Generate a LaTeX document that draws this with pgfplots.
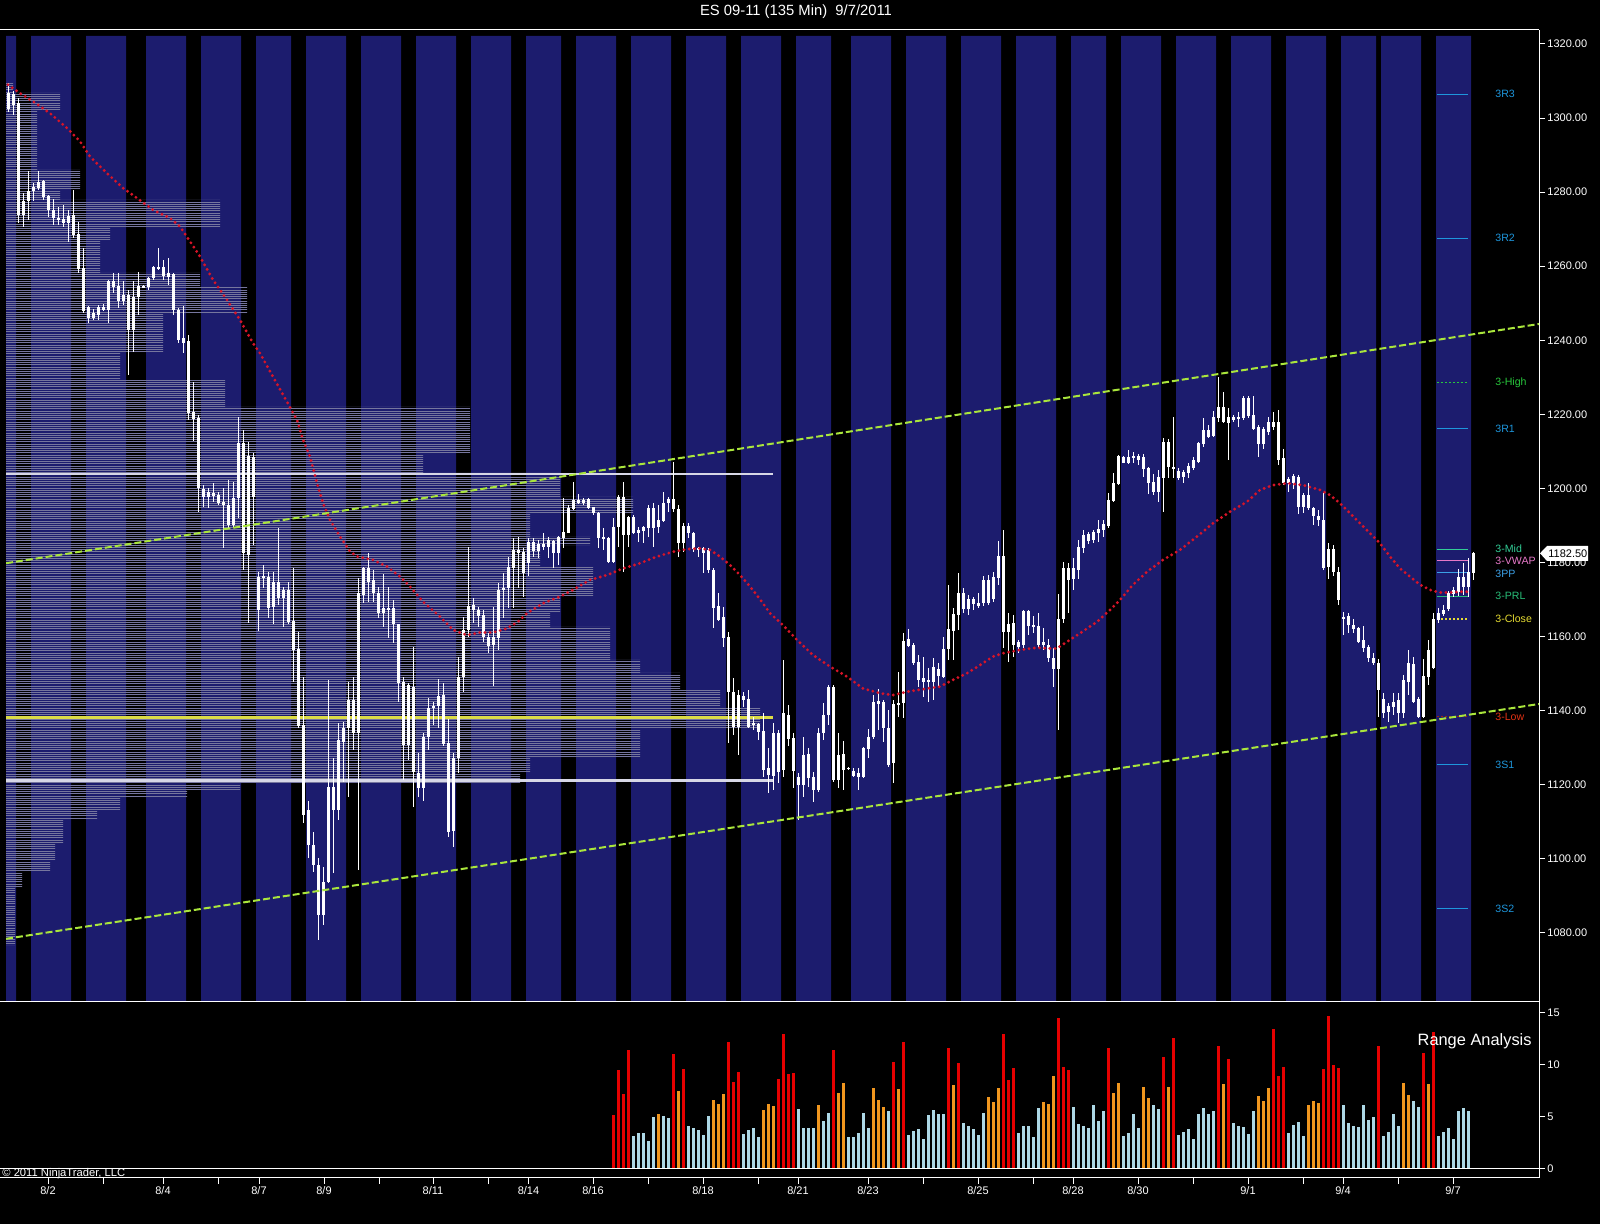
\documentclass[border=0pt]{standalone}
\usepackage{pgfplots}
\pgfplotsset{compat=1.18}
\usepackage{pgfplotstable}
\usetikzlibrary{patterns}
\usepackage{fontspec}
\setmainfont{Liberation Sans}
\definecolor{bandblue}{RGB}{28,28,110}
\definecolor{profgray}{RGB}{118,118,158}
\definecolor{chgreen}{RGB}{170,230,60}
\definecolor{dotred}{RGB}{215,20,40}
\definecolor{hlwhite}{RGB}{215,215,230}
\definecolor{hlyellow}{RGB}{220,220,70}
\definecolor{pvblue}{RGB}{30,150,220}
\definecolor{pvgreen}{RGB}{40,200,60}
\definecolor{pvmid}{RGB}{50,205,150}
\definecolor{pvpink}{RGB}{230,120,200}
\definecolor{pvpp}{RGB}{60,160,230}
\definecolor{pvprl}{RGB}{40,190,120}
\definecolor{pvyellow}{RGB}{230,220,50}
\definecolor{pvred}{RGB}{225,50,20}
\definecolor{rred}{RGB}{230,0,0}
\definecolor{rorange}{RGB}{240,150,30}
\definecolor{rblue}{RGB}{173,216,230}
\pgfdeclarepatternformonly{hfine}{\pgfqpoint{-1pt}{0pt}}{\pgfqpoint{801pt}{1.1pt}}{\pgfqpoint{800pt}{1.1pt}}{%
  \pgfsetlinewidth{0.55pt}\pgfpathmoveto{\pgfqpoint{-1pt}{0.55pt}}\pgfpathlineto{\pgfqpoint{801pt}{0.55pt}}\pgfusepath{stroke}}
\newcommand{\pp}[2]{({(#1)*0.5pt},{(1224-(#2))*0.5pt})}

\pgfplotstableread{
x bt bb wt wb
8.3 1306.9 1302.4 1309.4 1301.7
13.3 1306.5 1303.6 1307.2 1300.9
18.3 1304.0 1273.9 1305.3 1271.6
23.3 1277.6 1273.9 1279.7 1270.7
28.3 1280.3 1277.5 1285.7 1272.5
33.3 1281.5 1280.2 1282.4 1277.5
38.3 1282.7 1281.0 1285.7 1280.6
43.3 1282.9 1278.8 1283.3 1277.9
48.3 1279.0 1275.2 1279.3 1273.4
53.3 1275.2 1273.0 1278.1 1271.1
58.3 1272.9 1272.4 1276.1 1271.1
63.3 1272.7 1271.6 1276.6 1270.7
68.3 1273.6 1271.6 1275.2 1266.4
73.3 1273.9 1268.4 1280.6 1267.6
78.3 1268.7 1259.2 1271.9 1258.3
83.3 1259.5 1247.8 1264.8 1247.3
88.3 1249.1 1245.9 1249.3 1244.6
93.3 1247.5 1245.9 1248.4 1245.5
98.3 1249.1 1246.9 1249.5 1245.5
103.3 1249.1 1248.2 1249.7 1247.8
108.3 1256.1 1248.2 1256.3 1244.6
113.3 1255.9 1254.5 1258.1 1252.7
118.3 1254.7 1250.7 1258.1 1248.7
123.3 1252.2 1250.7 1255.9 1249.5
128.3 1252.2 1242.8 1253.6 1230.7
133.3 1251.6 1242.8 1256.1 1236.9
138.3 1254.7 1251.6 1258.5 1246.9
143.3 1254.7 1254.3 1254.9 1254.1
148.3 1256.7 1254.5 1257.2 1253.6
153.3 1259.7 1256.7 1260.1 1256.3
158.3 1259.9 1259.4 1264.8 1259.0
163.3 1259.9 1257.4 1261.7 1256.3
168.3 1258.1 1257.2 1262.2 1255.0
173.3 1257.9 1248.2 1258.1 1246.9
178.3 1248.2 1240.1 1248.6 1239.2
183.3 1240.5 1239.4 1249.3 1236.5
188.3 1239.8 1220.3 1241.4 1218.5
193.3 1220.6 1218.7 1228.8 1212.7
198.3 1218.9 1200.1 1219.9 1193.7
203.3 1199.8 1197.6 1200.9 1194.9
208.3 1199.1 1197.6 1200.2 1194.6
213.3 1198.9 1198.0 1201.6 1196.4
218.3 1198.2 1196.0 1199.1 1195.5
223.3 1196.4 1195.5 1200.0 1183.8
228.3 1195.5 1190.1 1202.3 1189.2
233.3 1197.3 1190.1 1201.8 1189.2
238.3 1212.2 1197.3 1219.4 1191.9
243.3 1212.2 1182.5 1215.8 1178.0
248.3 1208.8 1182.0 1212.6 1163.6
253.3 1208.6 1197.8 1209.5 1184.7
258.3 1176.2 1167.2 1177.5 1161.6
263.3 1176.4 1175.9 1179.3 1173.0
268.3 1176.2 1167.6 1177.5 1165.0
273.3 1174.8 1168.1 1177.5 1163.4
278.3 1174.7 1170.3 1189.2 1168.5
283.3 1172.6 1170.3 1173.5 1162.5
288.3 1172.6 1164.0 1174.8 1163.4
293.3 1164.2 1156.4 1178.4 1147.8
298.3 1156.6 1135.9 1161.3 1135.2
303.3 1136.1 1111.8 1149.2 1109.6
308.3 1113.2 1103.7 1115.5 1100.1
313.3 1103.7 1098.3 1107.3 1096.5
318.3 1098.3 1084.8 1100.1 1078.1
323.3 1093.8 1084.8 1097.9 1082.1
328.3 1119.5 1093.8 1148.3 1093.4
333.3 1119.5 1113.2 1127.1 1096.1
338.3 1132.1 1113.2 1136.6 1110.5
343.3 1135.2 1131.6 1137.0 1120.8
348.3 1142.9 1135.2 1147.8 1116.8
353.3 1142.9 1133.9 1149.2 1129.4
358.3 1171.7 1133.9 1175.7 1097.0
363.3 1178.4 1171.2 1178.9 1169.0
368.3 1178.4 1174.8 1182.5 1169.4
373.3 1175.3 1171.7 1178.0 1169.4
378.3 1171.9 1166.5 1173.5 1164.9
383.3 1167.6 1166.5 1176.9 1162.7
388.3 1167.6 1167.2 1173.5 1159.5
393.3 1167.6 1163.4 1169.9 1158.2
398.3 1163.4 1147.4 1163.4 1142.4
403.3 1147.8 1130.7 1149.2 1121.3
408.3 1146.9 1130.7 1147.4 1126.7
413.3 1146.5 1123.5 1157.3 1114.1
418.3 1123.1 1119.0 1128.5 1116.8
423.3 1133.0 1119.0 1133.9 1115.5
428.3 1140.6 1133.0 1143.3 1129.4
433.3 1141.3 1140.6 1142.4 1136.1
438.3 1144.0 1141.3 1148.5 1135.2
443.3 1144.2 1131.0 1147.4 1130.5
448.3 1131.4 1107.3 1137.7 1106.0
453.3 1127.1 1107.6 1128.5 1103.3
458.3 1149.2 1127.1 1154.6 1123.1
463.3 1161.8 1149.2 1165.4 1145.1
468.3 1168.3 1161.8 1184.3 1160.0
473.3 1168.5 1167.2 1170.3 1163.6
478.3 1167.2 1165.6 1168.1 1162.5
483.3 1165.9 1160.0 1167.2 1158.6
488.3 1160.0 1157.5 1160.9 1155.7
493.3 1160.0 1157.7 1168.1 1146.7
498.3 1172.6 1159.5 1174.4 1156.4
503.3 1173.2 1172.5 1177.1 1164.9
508.3 1178.9 1173.0 1181.6 1167.6
513.3 1183.4 1178.4 1186.5 1167.6
518.3 1183.4 1182.5 1187.0 1173.0
523.3 1182.9 1177.1 1183.8 1170.6
528.3 1185.6 1180.0 1186.5 1176.4
533.3 1185.6 1183.2 1186.5 1181.6
538.3 1185.0 1183.2 1186.1 1181.1
543.3 1185.0 1184.3 1187.9 1183.4
548.3 1186.1 1184.1 1187.0 1181.1
553.3 1185.9 1182.5 1186.1 1178.4
558.3 1187.0 1182.5 1187.2 1179.3
563.3 1188.3 1186.5 1197.3 1183.8
568.3 1194.6 1188.1 1195.5 1187.9
573.3 1196.9 1194.4 1201.8 1194.2
578.3 1196.9 1196.2 1198.4 1195.8
583.3 1196.9 1196.2 1197.3 1195.5
588.3 1197.1 1194.6 1197.3 1194.4
593.3 1194.9 1193.5 1195.1 1192.8
598.3 1193.5 1186.7 1193.7 1183.8
603.3 1186.9 1186.3 1189.2 1183.4
608.3 1186.5 1180.2 1187.0 1180.0
613.3 1189.5 1180.2 1191.9 1179.8
618.3 1197.8 1189.5 1198.2 1184.3
623.3 1197.8 1187.4 1201.8 1177.5
628.3 1192.2 1187.4 1192.6 1184.1
633.3 1192.2 1187.9 1192.8 1187.7
638.3 1188.9 1187.9 1189.7 1185.6
643.3 1189.5 1188.6 1189.9 1185.2
648.3 1194.6 1189.2 1195.5 1187.0
653.3 1194.6 1189.2 1196.0 1184.1
658.3 1191.5 1189.5 1195.5 1187.9
663.3 1196.2 1191.3 1199.1 1191.0
668.3 1197.1 1196.2 1197.8 1193.7
673.3 1197.1 1194.4 1207.2 1193.7
678.3 1194.4 1185.4 1195.5 1181.6
683.3 1189.9 1185.2 1190.6 1182.9
688.3 1189.9 1187.9 1190.6 1186.5
693.3 1187.9 1183.6 1188.3 1182.9
698.3 1183.8 1183.4 1184.3 1181.6
703.3 1183.8 1182.7 1184.3 1177.1
708.3 1183.4 1178.0 1183.8 1177.3
713.3 1178.0 1167.6 1178.4 1162.2
718.3 1168.3 1164.5 1171.7 1164.1
723.3 1165.4 1159.5 1168.1 1157.3
728.3 1160.0 1145.1 1161.3 1131.2
733.3 1145.1 1135.7 1148.7 1133.4
738.3 1144.2 1135.7 1145.6 1128.1
743.3 1144.0 1142.9 1145.1 1141.1
748.3 1143.1 1135.7 1145.6 1135.2
753.3 1136.6 1136.1 1138.4 1134.8
758.3 1136.4 1134.3 1136.6 1132.1
763.3 1134.5 1124.0 1139.3 1122.2
768.3 1124.4 1122.6 1129.8 1117.7
773.3 1133.9 1122.4 1136.6 1118.6
778.3 1133.9 1123.5 1134.8 1120.4
783.3 1139.3 1124.0 1153.7 1122.2
788.3 1138.8 1132.3 1141.5 1130.5
793.3 1132.5 1123.8 1133.9 1119.0
798.3 1122.2 1119.9 1123.1 1110.5
803.3 1128.0 1119.9 1132.8 1116.8
808.3 1128.3 1121.7 1129.8 1119.5
813.3 1122.2 1118.6 1123.5 1115.4
818.3 1134.1 1118.6 1135.2 1118.1
823.3 1138.8 1133.9 1142.0 1132.0
828.3 1146.5 1138.8 1146.9 1136.1
833.3 1146.5 1121.3 1146.9 1120.8
838.3 1128.0 1121.3 1133.9 1119.0
843.3 1128.3 1124.0 1131.9 1118.6
848.3 1124.6 1124.2 1124.8 1124.0
853.3 1123.8 1122.4 1124.4 1122.2
858.3 1123.1 1122.2 1124.4 1118.6
863.3 1129.8 1122.2 1130.3 1121.7
868.3 1133.0 1129.6 1135.0 1127.1
873.3 1142.4 1132.8 1144.2 1132.3
878.3 1142.6 1141.8 1145.8 1134.8
883.3 1142.3 1135.2 1142.9 1131.6
888.3 1135.2 1125.3 1140.2 1124.9
893.3 1141.8 1125.8 1142.9 1120.4
898.3 1142.2 1141.5 1150.5 1138.4
903.3 1158.9 1142.2 1160.9 1137.9
908.3 1159.3 1157.5 1162.0 1157.1
913.3 1157.7 1152.8 1158.2 1152.3
918.3 1153.2 1148.3 1155.0 1146.5
923.3 1148.7 1147.8 1154.6 1143.8
928.3 1148.3 1147.8 1151.4 1142.4
933.3 1151.7 1147.8 1154.1 1142.9
938.3 1151.2 1149.4 1152.8 1146.5
943.3 1156.6 1149.2 1160.0 1148.7
948.3 1162.0 1156.6 1174.0 1153.7
953.3 1166.1 1161.6 1167.6 1153.7
958.3 1171.7 1165.8 1177.1 1161.8
963.3 1171.7 1167.4 1173.0 1166.3
968.3 1170.1 1167.4 1171.2 1165.8
973.3 1170.1 1168.8 1170.8 1167.2
978.3 1169.0 1168.3 1171.7 1167.6
983.3 1175.3 1169.0 1176.4 1168.3
988.3 1175.3 1169.0 1176.6 1168.5
993.3 1176.0 1170.1 1177.5 1169.4
998.3 1181.8 1175.7 1185.9 1173.9
1003.3 1181.8 1161.3 1188.8 1156.8
1008.3 1163.4 1161.3 1166.3 1153.2
1013.3 1163.8 1157.7 1165.8 1154.6
1018.3 1158.6 1157.3 1159.1 1155.5
1023.3 1166.9 1157.7 1167.2 1156.8
1028.3 1166.9 1162.9 1167.2 1160.4
1033.3 1163.1 1162.5 1165.6 1161.1
1038.3 1162.9 1157.7 1166.3 1156.8
1043.3 1158.6 1157.7 1162.2 1156.4
1048.3 1157.7 1154.1 1159.3 1153.2
1053.3 1154.1 1151.2 1156.8 1146.5
1058.3 1164.7 1151.2 1171.5 1134.8
1063.3 1178.4 1164.7 1180.2 1163.8
1068.3 1178.4 1175.3 1179.8 1166.3
1073.3 1178.4 1175.5 1181.1 1172.6
1078.3 1184.3 1178.1 1186.1 1175.5
1083.3 1187.4 1183.8 1188.8 1182.7
1088.3 1187.7 1185.9 1188.3 1185.0
1093.3 1188.3 1186.1 1188.8 1185.2
1098.3 1189.0 1187.9 1191.5 1185.6
1103.3 1190.4 1188.8 1191.5 1187.0
1108.3 1196.9 1189.9 1198.9 1189.2
1113.3 1201.4 1196.7 1204.1 1196.4
1118.3 1208.8 1201.2 1209.0 1200.9
1123.3 1208.6 1207.0 1208.8 1206.8
1128.3 1208.6 1207.0 1210.4 1206.6
1133.3 1208.8 1208.4 1209.9 1206.8
1138.3 1208.8 1207.7 1209.3 1206.3
1143.3 1208.4 1205.2 1209.3 1203.2
1148.3 1205.4 1201.6 1205.9 1198.5
1153.3 1201.8 1199.1 1203.9 1198.2
1158.3 1203.0 1199.1 1205.0 1196.4
1163.3 1212.6 1202.7 1213.5 1193.7
1168.3 1212.6 1205.7 1213.3 1202.7
1173.3 1205.9 1205.2 1219.4 1202.7
1178.3 1204.8 1202.7 1205.4 1202.3
1183.3 1204.5 1203.0 1205.0 1201.6
1188.3 1206.1 1204.3 1206.8 1202.7
1193.3 1207.7 1205.4 1208.4 1205.0
1198.3 1212.2 1207.2 1212.6 1206.8
1203.3 1215.8 1212.0 1218.9 1211.3
1208.3 1215.8 1214.0 1217.1 1213.5
1213.3 1219.4 1214.2 1221.0 1213.8
1218.3 1222.1 1218.9 1230.2 1218.0
1223.3 1222.1 1218.0 1226.1 1217.6
1228.3 1219.4 1217.8 1221.6 1207.7
1233.3 1219.4 1218.5 1219.8 1218.0
1238.3 1219.3 1218.9 1220.7 1216.7
1243.3 1224.5 1218.9 1225.0 1218.5
1248.3 1224.5 1219.6 1225.0 1218.9
1253.3 1219.8 1216.0 1225.0 1215.8
1258.3 1216.5 1212.0 1217.1 1208.6
1263.3 1216.0 1212.0 1216.5 1210.6
1268.3 1218.0 1215.3 1219.4 1214.4
1273.3 1218.0 1216.5 1220.7 1215.8
1278.3 1218.0 1207.7 1221.2 1206.3
1283.3 1208.1 1201.4 1210.6 1200.9
1288.3 1202.5 1201.4 1203.2 1199.1
1293.3 1203.4 1201.6 1203.9 1199.8
1298.3 1203.2 1195.1 1203.6 1193.1
1303.3 1198.2 1195.1 1198.7 1193.5
1308.3 1198.2 1194.6 1201.6 1194.2
1313.3 1194.6 1192.6 1195.1 1190.1
1318.3 1192.6 1191.5 1194.2 1189.9
1323.3 1191.5 1178.4 1198.9 1178.0
1328.3 1183.6 1178.9 1185.4 1175.5
1333.3 1183.6 1177.5 1184.7 1176.4
1338.3 1177.5 1169.9 1178.7 1168.5
1343.3 1165.4 1164.9 1166.7 1160.4
1348.3 1165.5 1163.1 1166.3 1160.9
1353.3 1163.1 1162.0 1164.7 1160.9
1358.3 1162.2 1158.6 1162.7 1158.2
1363.3 1159.1 1156.8 1162.9 1155.9
1368.3 1157.3 1154.1 1157.7 1153.2
1373.3 1154.1 1152.8 1155.5 1152.3
1378.3 1152.8 1145.7 1153.9 1138.4
1383.3 1143.1 1139.3 1144.7 1137.9
1388.3 1141.3 1139.7 1142.0 1137.0
1393.3 1142.4 1141.1 1144.7 1138.8
1398.3 1142.9 1139.3 1144.7 1136.6
1403.3 1148.3 1139.3 1149.6 1137.9
1408.3 1153.0 1147.8 1156.5 1144.2
1413.3 1152.6 1142.4 1154.6 1142.0
1418.3 1143.1 1138.4 1143.8 1137.9
1423.3 1149.4 1138.4 1153.9 1137.9
1428.3 1156.5 1149.2 1159.1 1146.9
1433.3 1164.7 1151.4 1166.3 1151.2
1438.3 1166.3 1164.5 1167.6 1163.8
1443.3 1167.2 1166.1 1168.5 1165.6
1448.3 1171.7 1167.4 1172.4 1167.0
1453.3 1172.6 1171.5 1173.5 1170.6
1458.3 1176.2 1172.1 1178.2 1170.9
1463.3 1176.2 1173.5 1180.0 1171.2
1468.3 1177.5 1173.5 1181.1 1170.8
1473.3 1182.5 1177.3 1182.9 1175.3
}\candles

\begin{document}
\begin{tikzpicture}
\useasboundingbox (0,0) rectangle (800pt,612pt);
\fill[black] (0,0) rectangle (800pt,612pt);

% main price panel
\begin{axis}[
  at={(3pt,111pt)}, anchor=south west,
  width=766.5pt, height=486pt, scale only axis,
  xmin=6, xmax=1539, ymin=1061.34, ymax=1323.78,
  axis x line=none, axis y line*=right,
  y axis line style={white, line width=0.5pt},
  ytick={1080,1100,...,1320},
  tick align=outside, major tick length=3pt,
  tick style={white, line width=0.5pt},
  yticklabel style={white, font=\fontsize{5.5pt}{6pt}\selectfont, inner sep=1pt,
    /pgf/number format/.cd, fixed, fixed zerofill, precision=2, 1000 sep={}, assume math mode=true},
]
% session bands
\addplot[const plot, fill=bandblue, draw=none] coordinates {
(6,1322.2) (16,1061.34) (31,1322.2) (71,1061.34) (86,1322.2) (126,1061.34) (146,1322.2) (186,1061.34)
(201,1322.2) (241,1061.34) (256,1322.2) (291,1061.34) (306,1322.2) (346,1061.34) (361,1322.2) (401,1061.34)
(416,1322.2) (456,1061.34) (471,1322.2) (511,1061.34) (526,1322.2) (561,1061.34) (576,1322.2) (616,1061.34)
(631,1322.2) (671,1061.34) (686,1322.2) (726,1061.34) (741,1322.2) (781,1061.34) (796,1322.2) (831,1061.34)
(851,1322.2) (891,1061.34) (906,1322.2) (946,1061.34) (961,1322.2) (1001,1061.34) (1016,1322.2) (1056,1061.34)
(1071,1322.2) (1106,1061.34) (1121,1322.2) (1161,1061.34) (1176,1322.2) (1216,1061.34) (1231,1322.2) (1271,1061.34)
(1286,1322.2) (1326,1061.34) (1341,1322.2) (1376,1061.34) (1381,1322.2) (1421,1061.34) (1436,1322.2) (1471,1061.34)
} \closedcycle;
% volume profile
\addplot[draw=none, pattern=hfine, pattern color=profgray] coordinates {
(6,1309.5) (13,1309.5) (13,1306.8) (60,1306.8) (60,1302.2) (37,1302.2) (37,1286.0) (80,1286.0) (80,1280.6)
(60,1280.6) (60,1277.9) (220,1277.9) (220,1270.6) (110,1270.6) (110,1267.1) (100,1267.1) (100,1258.2)
(200,1258.2) (200,1254.4) (247,1254.4) (247,1247.4) (163,1247.4) (163,1236.6) (120,1236.6) (120,1229.3)
(225,1229.3) (225,1222.0) (470,1222.0) (470,1209.6) (423,1209.6) (423,1204.2) (560,1204.2) (560,1197.7)
(633,1197.7) (633,1193.4) (530,1193.4) (530,1186.9) (590,1186.9) (590,1184.7) (540,1184.7) (540,1178.8)
(593,1178.8) (593,1170.7) (560,1170.7) (560,1166.4) (550,1166.4) (550,1162.6) (610,1162.6) (610,1153.7)
(640,1153.7) (640,1150.2) (680,1150.2) (680,1145.6) (720,1145.6) (720,1141.0) (760,1141.0) (760,1134.8)
(640,1134.8) (640,1127.5) (530,1127.5) (530,1123.2) (520,1123.2) (520,1120.5) (240,1120.5) (240,1118.6)
(187,1118.6) (187,1116.7) (120,1116.7) (120,1113.2) (97,1113.2) (97,1110.5) (63,1110.5) (63,1104.3)
(55,1104.3) (55,1099.7) (50,1099.7) (50,1096.2) (22,1096.2) (22,1092.4) (15,1092.4) (15,1076.7) (6,1076.7)
};
% horizontal levels
\addplot[hlwhite, line width=1.25pt] coordinates {(6,1203.9) (773,1203.9)};
\addplot[hlwhite, line width=1.25pt] coordinates {(6,1121.2) (773,1121.2)};
\addplot[hlyellow, line width=1.25pt] coordinates {(6,1138.2) (773,1138.2)};
% pivot segments
\addplot[pvblue, line width=0.5pt] coordinates {(1437,1306.4) (1468,1306.4)};
\addplot[pvblue, line width=0.5pt] coordinates {(1437,1267.6) (1468,1267.6)};
\addplot[pvgreen, line width=0.8pt, dash pattern=on 1pt off 1pt] coordinates {(1437,1228.6) (1468,1228.6)};
\addplot[pvblue, line width=0.5pt] coordinates {(1437,1216.1) (1468,1216.1)};
\addplot[pvmid, line width=0.5pt] coordinates {(1437,1183.6) (1468,1183.6)};
\addplot[pvpink, line width=0.5pt] coordinates {(1437,1180.6) (1468,1180.6)};
\addplot[pvpp, line width=0.5pt] coordinates {(1437,1177.3) (1468,1177.3)};
\addplot[pvprl, line width=0.5pt] coordinates {(1437,1170.9) (1468,1170.9)};
\addplot[pvyellow, line width=0.8pt, dash pattern=on 1pt off 1pt] coordinates {(1437,1164.7) (1468,1164.7)};
\addplot[pvred!70!black, line width=0.8pt, dash pattern=on 1pt off 1pt] coordinates {(1437,1138.4) (1468,1138.4)};
\addplot[pvblue, line width=0.5pt] coordinates {(1437,1125.5) (1468,1125.5)};
\addplot[pvblue, line width=0.5pt] coordinates {(1437,1086.6) (1468,1086.6)};
% candles: wicks and bodies
\addplot[draw=none, mark=none, error bars/.cd, y dir=both, y explicit, error mark=none,
  error bar style={draw=white, line width=0.5pt}]
  table[x=x, y expr={(\thisrow{wt}+\thisrow{wb})/2}, y error expr={(\thisrow{wt}-\thisrow{wb})/2}] {\candles};
\addplot[draw=none, mark=none, error bars/.cd, y dir=both, y explicit, error mark=none,
  error bar style={draw=white, line width=1.65pt}]
  table[x=x, y expr={(\thisrow{bt}+\thisrow{bb})/2}, y error expr={(\thisrow{bt}-\thisrow{bb})/2}] {\candles};
% channel lines
\addplot[chgreen, line width=1pt, dash pattern=on 3.5pt off 1.5pt] coordinates {(6,1179.8) (1539,1244.4)};
\addplot[chgreen, line width=1pt, dash pattern=on 3.5pt off 1.5pt] coordinates {(6,1078.4) (1539,1141.8)};
% red dotted average
\addplot[dotred, line width=1.6pt, line cap=round, dash pattern=on 0pt off 2.6pt] coordinates {
(8,1309.0) (20,1306.7) (33,1304.5) (50,1301.3) (67,1297.3) (80,1293.7) (90,1289.6) (107,1285.1) (123,1281.1)
(137,1278.4) (153,1275.2) (170,1273.0) (180,1270.7) (190,1266.7) (200,1262.6) (213,1256.3) (227,1250.9)
(240,1245.5) (253,1239.2) (260,1236.5) (297,1218.5) (303,1213.1) (310,1208.6) (317,1201.4) (323,1196.0)
(330,1191.5) (340,1187.0) (350,1183.0) (357,1181.6) (373,1180.7) (387,1178.9) (400,1176.2) (410,1173.5)
(423,1169.4) (440,1165.4) (453,1161.8) (467,1160.4) (480,1161.1) (493,1161.1) (507,1162.2) (518,1164.0)
(527,1166.3) (543,1169.0) (560,1170.8) (573,1172.6) (590,1175.3) (607,1176.6) (623,1178.4) (640,1179.8)
(657,1181.6) (673,1182.9) (687,1183.6) (700,1183.8) (710,1183.4) (720,1181.6) (730,1179.3) (740,1176.6)
(750,1173.5) (760,1170.1) (770,1166.3) (783,1163.1) (797,1159.1) (813,1155.0) (830,1151.9) (847,1149.2)
(863,1146.0) (880,1144.7) (893,1144.2) (907,1145.1) (923,1145.8) (940,1146.5) (953,1148.3) (967,1150.1)
(980,1152.3) (993,1154.6) (1003,1155.5) (1020,1156.4) (1037,1157.0) (1050,1156.8) (1057,1156.8)
(1067,1158.6) (1080,1160.9) (1097,1164.0) (1110,1167.2) (1120,1169.9) (1133,1174.0) (1147,1177.5)
(1163,1180.7) (1180,1183.4) (1197,1187.0) (1213,1190.6) (1230,1193.7) (1247,1196.4) (1260,1199.6)
(1273,1200.9) (1287,1201.4) (1303,1200.9) (1320,1199.6) (1330,1198.2) (1340,1196.0) (1350,1193.3)
(1360,1190.6) (1370,1187.9) (1380,1185.2) (1390,1181.6) (1400,1178.4) (1410,1176.2) (1420,1174.0)
(1430,1172.6) (1440,1171.9) (1450,1171.9) (1460,1172.1) (1468,1172.1)
};
% pivot labels
\begin{scope}[every node/.style={anchor=west, inner sep=0pt, font=\fontsize{5.3pt}{6pt}\selectfont}]
\node[text=pvblue] at (axis cs:1495,1306.4) {3R3};
\node[text=pvblue] at (axis cs:1495,1267.6) {3R2};
\node[text=pvgreen] at (axis cs:1495,1228.6) {3-High};
\node[text=pvblue] at (axis cs:1495,1216.1) {3R1};
\node[text=pvmid] at (axis cs:1495,1183.8) {3-Mid};
\node[text=pvpink] at (axis cs:1495,1180.4) {3-VWAP};
\node[text=pvpp] at (axis cs:1495,1177.0) {3PP};
\node[text=pvprl] at (axis cs:1495,1170.9) {3-PRL};
\node[text=pvyellow] at (axis cs:1495,1164.7) {3-Close};
\node[text=pvred] at (axis cs:1495,1138.2) {3-Low};
\node[text=pvblue] at (axis cs:1495,1125.5) {3S1};
\node[text=pvblue] at (axis cs:1495,1086.6) {3S2};
\end{scope}
\end{axis}

% range analysis panel
\begin{axis}[
  at={(3pt,23pt)}, anchor=south west,
  width=766.5pt, height=88pt, scale only axis,
  xmin=6, xmax=1539, ymin=-0.894, ymax=16.03,
  axis x line*=bottom, axis y line*=right,
  axis line style={white, line width=0.5pt},
  tick align=outside, major tick length=3pt,
  tick style={white, line width=0.5pt},
  xtick={48,163,259,324,433,528.5,593,703,798,868,978,1073,1138,1248,1343,1453},
  xticklabels={8/2,8/4,8/7,8/9,8/11,8/14,8/16,8/18,8/21,8/23,8/25,8/28,8/30,9/1,9/4,9/7},
  extra x ticks={103,218.5,379,488,648,758,923,1033,1193,1303,1398},
  extra x tick labels={},
  extra x tick style={tick style={white, line width=0.5pt}},
  ytick={0,5,10,15},
  ticklabel style={white, font=\fontsize{5.5pt}{6pt}\selectfont, inner sep=1pt},
  yticklabel style={/pgf/number format/assume math mode=true},
  clip=true,
]
\addplot[ycomb, rred, line width=1.5pt] coordinates {
(613.3,5.2) (618.3,9.5) (623.3,7.2) (628.3,11.4) (673.3,11.0) (683.3,9.6) (728.3,12.2) (733.3,8.3) (738.3,9.3)
(778.3,8.6) (783.3,13.0) (788.3,9.1) (793.3,9.2) (833.3,11.4) (893.3,10.3) (903.3,12.2) (948.3,11.6) (958.3,10.2)
(1003.3,13.0) (1008.3,8.5) (1013.3,9.7) (1058.3,14.5) (1063.3,9.8) (1068.3,9.5) (1108.3,11.6) (1163.3,10.7)
(1173.3,12.6) (1218.3,11.8) (1228.3,10.5) (1273.3,13.4) (1278.3,8.9) (1283.3,9.8) (1323.3,9.6) (1328.3,14.7)
(1333.3,10.0) (1338.3,9.7) (1378.3,11.8) (1423.3,11.1) (1433.3,13.1)
};
\addplot[ycomb, rorange, line width=1.5pt] coordinates {
(658.3,5.3) (678.3,7.5) (713.3,6.6) (718.3,6.2) (723.3,7.2) (763.3,5.6) (768.3,6.2) (773.3,6.0) (818.3,6.1)
(838.3,7.3) (843.3,8.2) (873.3,7.8) (878.3,6.6) (883.3,5.9) (898.3,7.7) (953.3,8.0) (988.3,6.9) (993.3,6.4)
(998.3,7.8) (1043.3,6.4) (1048.3,6.2) (1053.3,8.9) (1113.3,7.3) (1118.3,8.2) (1143.3,7.9) (1148.3,6.8)
(1168.3,7.9) (1223.3,8.1) (1258.3,7.0) (1263.3,6.5) (1268.3,7.8) (1308.3,6.1) (1313.3,6.5) (1318.3,6.3)
(1403.3,8.2) (1408.3,7.1) (1428.3,8.1)
};
\addplot[ycomb, rblue, line width=1.5pt] coordinates {
(633.3,3.1) (638.3,3.4) (643.3,3.4) (648.3,2.7) (653.3,5.0) (663.3,5.1) (668.3,4.9) (688.3,4.1) (693.3,3.9)
(698.3,3.7) (703.3,3.2) (708.3,5.1) (743.3,3.3) (748.3,3.7) (753.3,3.9) (758.3,3.0) (798.3,5.7) (803.3,3.9)
(808.3,3.9) (813.3,3.9) (823.3,4.6) (828.3,5.4) (848.3,3.0) (853.3,3.0) (858.3,3.4) (863.3,5.4) (868.3,3.9)
(888.3,5.5) (908.3,3.2) (913.3,3.6) (918.3,3.8) (923.3,2.9) (928.3,5.2) (933.3,5.6) (938.3,5.3) (943.3,5.3)
(963.3,4.4) (968.3,4.1) (973.3,3.8) (978.3,3.2) (983.3,5.4) (1018.3,3.4) (1023.3,4.1) (1028.3,4.1) (1033.3,3.0)
(1038.3,5.8) (1073.3,5.9) (1078.3,4.3) (1083.3,4.1) (1088.3,3.9) (1093.3,6.1) (1098.3,4.6) (1103.3,5.5)
(1123.3,3.1) (1128.3,3.4) (1133.3,5.3) (1138.3,3.9) (1153.3,6.1) (1158.3,5.7) (1178.3,3.2) (1183.3,3.5)
(1188.3,3.8) (1193.3,2.9) (1198.3,5.3) (1203.3,5.8) (1208.3,5.3) (1213.3,5.5) (1233.3,4.4) (1238.3,4.1)
(1243.3,4.0) (1248.3,3.3) (1253.3,5.5) (1288.3,3.4) (1293.3,4.2) (1298.3,4.5) (1303.3,3.1) (1343.3,6.1)
(1348.3,4.4) (1353.3,4.1) (1358.3,4.0) (1363.3,6.1) (1368.3,4.7) (1373.3,5.0) (1383.3,3.1) (1388.3,3.5)
(1393.3,5.3) (1398.3,4.1) (1413.3,6.5) (1418.3,5.9) (1438.3,3.1) (1443.3,3.5) (1448.3,3.9) (1453.3,2.9)
(1458.3,5.5) (1463.3,5.8) (1468.3,5.5)
};
\node[anchor=east, white, font=\fontsize{8.2pt}{9pt}\selectfont, inner sep=0pt] at (axis cs:1532,12.3) {Range Analysis};
\end{axis}

% frame lines
\draw[white, line width=0.5pt] \pp{0}{30} -- \pp{1539}{30};
\draw[white, line width=0.5pt] \pp{0}{1002} -- \pp{1539}{1002};
\draw[white, line width=0.5pt] \pp{0}{1168.7} -- \pp{1539}{1168.7};
\draw[white, line width=0.5pt] \pp{0}{1178} -- \pp{6}{1178};
% title and copyright
\node[white, font=\fontsize{7.4pt}{8pt}\selectfont, inner sep=0pt] at \pp{796}{12} {ES 09-11 (135 Min)\ \ 9/7/2011};
\node[white, anchor=west, font=\fontsize{5.6pt}{6pt}\selectfont, inner sep=0pt] at \pp{2}{1173.5} {© 2011 NinjaTrader, LLC};
% last price tag
\fill[white] \pp{1540}{553.3} -- \pp{1547}{546} -- \pp{1588}{546} -- \pp{1588}{561} -- \pp{1547}{561} -- cycle;
\node[black, anchor=west, font=\fontsize{5.5pt}{6pt}\selectfont, inner sep=0pt] at \pp{1548}{553.5} {1182.50};
\end{tikzpicture}
\end{document}
